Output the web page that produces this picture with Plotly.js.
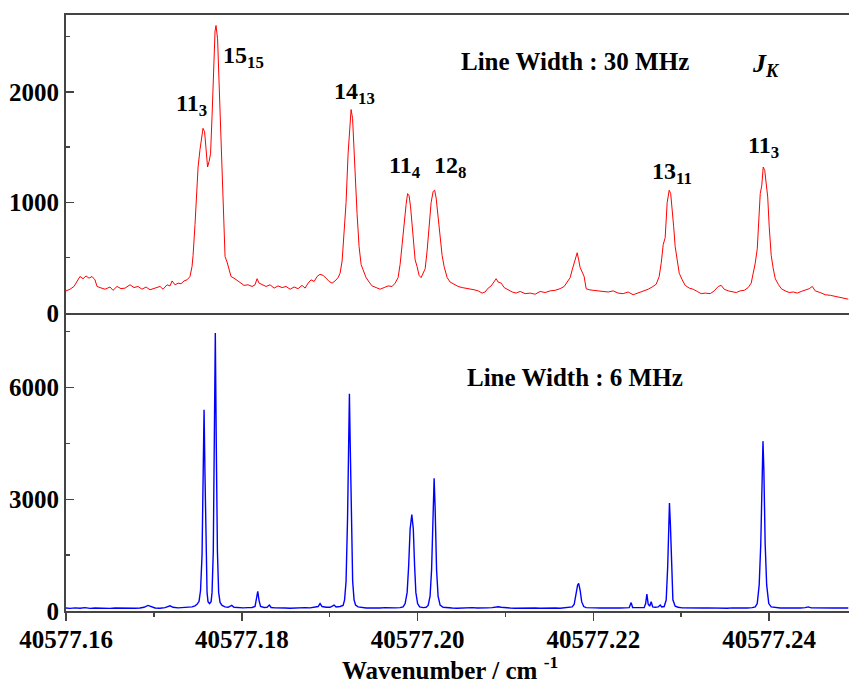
<!DOCTYPE html>
<html>
<head>
<meta charset="utf-8">
<script src="https://cdn.plot.ly/plotly-3.0.1.min.js"></script>
<style>html,body{margin:0;padding:0;background:#fff;}#chart{width:849px;height:684px;}</style>
</head>
<body>
<div id="chart"></div>
<script>
// Top panel: Line width 30 MHz (red)
var redWave = [
40577.16000,40577.16046,40577.16091,40577.16137,40577.16159,40577.16194,40577.16228,40577.16262,40577.16296,40577.16330,
40577.16353,40577.16387,40577.16444,40577.16501,40577.16535,40577.16581,40577.16626,40577.16672,40577.16729,40577.16774,
40577.16820,40577.16865,40577.16911,40577.16956,40577.17013,40577.17070,40577.17104,40577.17150,40577.17184,40577.17207,
40577.17241,40577.17275,40577.17309,40577.17343,40577.17377,40577.17411,40577.17434,40577.17446,40577.17468,40577.17480,
40577.17503,40577.17525,40577.17548,40577.17559,40577.17577,40577.17594,40577.17611,40577.17628,40577.17645,40577.17662,
40577.17679,40577.17696,40577.17707,40577.17725,40577.17742,40577.17759,40577.17776,40577.17793,40577.17810,40577.17833,
40577.17855,40577.17878,40577.17912,40577.17946,40577.17981,40577.18026,40577.18072,40577.18117,40577.18151,40577.18174,
40577.18197,40577.18231,40577.18277,40577.18322,40577.18368,40577.18413,40577.18459,40577.18504,40577.18550,40577.18595,
40577.18641,40577.18686,40577.18721,40577.18755,40577.18789,40577.18823,40577.18857,40577.18891,40577.18925,40577.18960,
40577.18994,40577.19028,40577.19062,40577.19096,40577.19119,40577.19142,40577.19164,40577.19187,40577.19210,40577.19233,
40577.19244,40577.19261,40577.19278,40577.19295,40577.19312,40577.19335,40577.19358,40577.19381,40577.19415,40577.19449,
40577.19483,40577.19529,40577.19574,40577.19620,40577.19665,40577.19711,40577.19745,40577.19779,40577.19802,40577.19825,
40577.19847,40577.19870,40577.19887,40577.19904,40577.19921,40577.19939,40577.19956,40577.19973,40577.19995,40577.20018,
40577.20041,40577.20064,40577.20087,40577.20109,40577.20132,40577.20155,40577.20178,40577.20195,40577.20212,40577.20234,
40577.20257,40577.20280,40577.20303,40577.20337,40577.20371,40577.20417,40577.20462,40577.20508,40577.20553,40577.20599,
40577.20644,40577.20690,40577.20735,40577.20769,40577.20804,40577.20838,40577.20872,40577.20895,40577.20917,40577.20952,
40577.20986,40577.21031,40577.21077,40577.21122,40577.21168,40577.21225,40577.21282,40577.21339,40577.21396,40577.21452,
40577.21509,40577.21566,40577.21623,40577.21669,40577.21703,40577.21737,40577.21760,40577.21783,40577.21805,40577.21817,
40577.21834,40577.21851,40577.21874,40577.21896,40577.21919,40577.21953,40577.21999,40577.22056,40577.22113,40577.22170,
40577.22227,40577.22283,40577.22340,40577.22397,40577.22454,40577.22511,40577.22568,40577.22625,40577.22670,40577.22716,
40577.22750,40577.22773,40577.22796,40577.22818,40577.22841,40577.22864,40577.22881,40577.22898,40577.22915,40577.22932,
40577.22955,40577.22978,40577.23012,40577.23046,40577.23092,40577.23137,40577.23183,40577.23228,40577.23274,40577.23331,
40577.23376,40577.23422,40577.23456,40577.23490,40577.23536,40577.23581,40577.23627,40577.23672,40577.23718,40577.23763,
40577.23797,40577.23820,40577.23843,40577.23866,40577.23883,40577.23900,40577.23917,40577.23934,40577.23951,40577.23968,
40577.23985,40577.24002,40577.24025,40577.24048,40577.24071,40577.24105,40577.24139,40577.24184,40577.24230,40577.24275,
40577.24321,40577.24367,40577.24412,40577.24458,40577.24492,40577.24526,40577.24583,40577.24640,40577.24697,40577.24754,
40577.24810,40577.24856,40577.24902
];
var redCounts = [
200,215,240,300,330,310,335,315,330,300,
240,230,215,235,205,240,220,225,255,230,
240,215,235,210,225,240,215,255,245,290,
255,270,265,290,300,330,420,520,800,1020,
1320,1480,1620,1670,1640,1450,1320,1370,1440,1780,
2250,2550,2600,2480,2080,1650,1250,850,510,460,
390,330,315,295,270,250,255,240,255,310,
270,260,240,255,225,245,230,240,215,235,
220,250,225,270,300,285,330,350,340,315,
285,270,290,320,360,470,700,1000,1440,1760,
1840,1760,1450,1180,900,600,440,390,320,280,
245,230,215,230,245,240,270,320,440,620,
820,980,1080,1060,960,780,600,480,420,340,
320,355,400,560,780,1000,1100,1110,1040,880,
700,520,420,320,280,260,240,230,225,215,
210,200,180,190,225,245,290,310,280,270,
230,210,190,180,195,175,180,170,195,185,
200,205,220,240,280,320,390,460,530,545,
480,410,370,330,220,210,205,200,195,190,
200,180,175,190,165,180,200,215,235,260,
330,450,620,680,1000,1110,1080,950,780,600,
460,360,300,250,225,215,195,175,180,175,
200,240,250,215,200,195,185,200,205,230,
270,360,450,580,900,1080,1150,1320,1290,1180,
1050,780,520,400,310,260,220,200,185,190,
180,195,205,220,240,200,185,165,160,150,
145,135,125
];

// Bottom panel: Line width 6 MHz (blue)
var blueWave = [
40577.16000,40577.16046,40577.16102,40577.16159,40577.16216,40577.16273,40577.16330,40577.16387,40577.16444,40577.16501,
40577.16558,40577.16615,40577.16672,40577.16729,40577.16785,40577.16842,40577.16888,40577.16933,40577.16968,40577.17013,
40577.17070,40577.17127,40577.17184,40577.17218,40577.17275,40577.17332,40577.17389,40577.17434,40577.17468,40577.17491,
40577.17514,40577.17531,40577.17548,40577.17559,40577.17571,40577.17582,40577.17594,40577.17605,40577.17616,40577.17633,
40577.17651,40577.17662,40577.17676,40577.17689,40577.17699,40577.17710,40577.17723,40577.17737,40577.17753,40577.17776,
40577.17810,40577.17844,40577.17886,40577.17912,40577.17958,40577.18015,40577.18072,40577.18117,40577.18151,40577.18168,
40577.18182,40577.18197,40577.18214,40577.18254,40577.18288,40577.18314,40577.18334,40577.18379,40577.18436,40577.18493,
40577.18550,40577.18607,40577.18664,40577.18721,40577.18777,40577.18834,40577.18869,40577.18891,40577.18914,40577.18960,
40577.19005,40577.19051,40577.19073,40577.19119,40577.19153,40577.19170,40577.19187,40577.19204,40577.19216,40577.19225,
40577.19234,40577.19245,40577.19262,40577.19278,40577.19295,40577.19324,40577.19369,40577.19415,40577.19460,40577.19517,
40577.19574,40577.19631,40577.19688,40577.19745,40577.19802,40577.19836,40577.19859,40577.19882,40577.19899,40577.19916,
40577.19935,40577.19952,40577.19967,40577.19981,40577.20001,40577.20024,40577.20064,40577.20098,40577.20121,40577.20143,
40577.20160,40577.20178,40577.20189,40577.20200,40577.20217,40577.20234,40577.20257,40577.20291,40577.20337,40577.20394,
40577.20451,40577.20508,40577.20565,40577.20622,40577.20678,40577.20735,40577.20792,40577.20849,40577.20883,40577.20917,
40577.20952,40577.20997,40577.21054,40577.21111,40577.21168,40577.21225,40577.21282,40577.21339,40577.21396,40577.21452,
40577.21509,40577.21566,40577.21623,40577.21680,40577.21726,40577.21760,40577.21783,40577.21805,40577.21822,40577.21834,
40577.21851,40577.21868,40577.21891,40577.21919,40577.21965,40577.22022,40577.22079,40577.22135,40577.22192,40577.22249,
40577.22306,40577.22363,40577.22409,40577.22431,40577.22448,40577.22488,40577.22534,40577.22579,40577.22596,40577.22610,
40577.22625,40577.22642,40577.22659,40577.22676,40577.22705,40577.22739,40577.22762,40577.22779,40577.22807,40577.22830,
40577.22847,40577.22858,40577.22867,40577.22878,40577.22889,40577.22906,40577.22932,40577.22966,40577.23012,40577.23069,
40577.23126,40577.23183,40577.23240,40577.23297,40577.23353,40577.23410,40577.23467,40577.23524,40577.23581,40577.23638,
40577.23695,40577.23752,40577.23809,40577.23843,40577.23866,40577.23888,40577.23906,40577.23920,40577.23931,40577.23941,
40577.23956,40577.23973,40577.23997,40577.24025,40577.24071,40577.24127,40577.24184,40577.24241,40577.24298,40577.24355,
40577.24412,40577.24446,40577.24480,40577.24537,40577.24606,40577.24674,40577.24742,40577.24810,40577.24867,40577.24902
];
var blueCounts = [
80,70,85,75,90,70,80,75,85,70,
80,75,80,70,75,80,100,150,110,80,
75,90,140,100,85,90,100,110,140,180,
260,550,1500,3600,5400,3600,1400,500,250,200,
250,500,1600,4500,7460,4500,1600,500,230,150,
110,100,150,100,90,85,90,95,120,300,
530,280,120,95,100,160,95,85,90,80,
75,85,80,90,85,95,120,200,120,100,
100,160,110,120,150,300,800,2500,4500,5830,
4500,2500,800,300,160,110,90,80,85,75,
80,90,80,85,90,110,200,500,1200,2200,
2590,2200,1200,500,200,110,90,100,150,400,
1100,2800,3560,2800,1100,400,160,100,85,80,
75,85,80,90,80,75,85,90,100,115,
100,85,80,75,80,75,85,80,75,80,
85,80,75,85,90,110,180,480,700,740,
550,250,120,90,80,85,80,75,85,80,
80,85,90,225,95,90,85,90,200,455,
180,130,250,110,100,110,160,110,120,300,
1200,2300,2900,2300,1200,300,130,100,85,80,
85,75,80,85,80,85,80,75,85,80,
85,80,90,110,200,700,1800,3800,4560,3800,
1800,700,200,110,90,80,85,80,75,80,
90,110,85,80,85,75,80,85,80,80
];

// Labels (J_K assignments) with their positions
var peakLabels = ['11<sub>3</sub>','15<sub>15</sub>','14<sub>13</sub>','11<sub>4</sub>','12<sub>8</sub>','13<sub>11</sub>','11<sub>3</sub>'];
var peakLabelX = [40577.17423,40577.18015,40577.19278,40577.19859,40577.20371,40577.22898,40577.23934];
var peakLabelY = [1880,2314,1988,1317,1317,1265,1499];

var xTitle = '<b>Wavenumber / cm</b> <sup><b>-1</b></sup>';

var xRange = [40577.16, 40577.2491];
var topRange = [0, 2695];
var botRange = [0, 8000];

var serif = 'Liberation Serif, Times New Roman, serif';
var axCol = '#444';

var traces = [
  {x: redWave, y: redCounts, type: 'scatter', mode: 'lines', xaxis: 'x2', yaxis: 'y2',
   line: {color: '#ff0000', width: 1}, hoverinfo: 'skip'},
  {x: blueWave, y: blueCounts, type: 'scatter', mode: 'lines', xaxis: 'x', yaxis: 'y',
   line: {color: '#0000ff', width: 1.4}, hoverinfo: 'skip'}
];

var annotations = [];
for (var i = 0; i < peakLabels.length; i++) {
  annotations.push({xref: 'x2', yref: 'y2', x: peakLabelX[i], y: peakLabelY[i],
    text: '<b>' + peakLabels[i] + '</b>', showarrow: false,
    font: {family: serif, size: 24, color: '#000'}, xanchor: 'center', yanchor: 'middle'});
}
annotations.push({xref: 'x2', yref: 'y2', x: 40577.21794, y: 2278, text: '<b>Line Width : 30 MHz</b>',
  showarrow: false, font: {family: serif, size: 25, color: '#000'}, xanchor: 'center', yanchor: 'middle'});
annotations.push({xref: 'x2', yref: 'y2', x: 40577.23968, y: 2240, text: '<b><i>J</i><sub><i>K</i></sub></b>',
  showarrow: false, font: {family: serif, size: 26, color: '#000'}, xanchor: 'center', yanchor: 'middle'});
annotations.push({xref: 'x', yref: 'y', x: 40577.21794, y: 6273, text: '<b>Line Width : 6 MHz</b>',
  showarrow: false, font: {family: serif, size: 25, color: '#000'}, xanchor: 'center', yanchor: 'middle'});
// x-axis title
annotations.push({xref: 'paper', yref: 'paper', x: 0.4904, y: -0.096, text: xTitle, borderpad: 0,
  showarrow: false, font: {family: serif, size: 25, color: '#000'}, xanchor: 'center', yanchor: 'middle'});

var tickFont = {family: serif, size: 25, color: '#000', weight: 'bold'};

var layout = {
  width: 849, height: 684,
  margin: {l: 66, r: 0, t: 15, b: 73},
  paper_bgcolor: '#fff', plot_bgcolor: '#fff',
  showlegend: false,
  xaxis: {domain: [0, 1], range: xRange, anchor: 'y', showline: true, mirror: false,
    linecolor: axCol, linewidth: 2, ticks: 'outside', ticklen: 8, tickwidth: 1.5, tickcolor: axCol,
    ticklabelstandoff: -3,
    tick0: 40577.16, dtick: 0.02, tickformat: '.2f',
    minor: {dtick: 0.01, ticklen: 4, tickwidth: 1.5, tickcolor: axCol, ticks: 'outside'},
    tickfont: tickFont, showgrid: false, zeroline: false},
  xaxis2: {domain: [0, 1], range: xRange, anchor: 'y2', matches: 'x', showline: true, mirror: true,
    linecolor: axCol, linewidth: 2, ticks: '', showticklabels: false, showgrid: false, zeroline: false},
  yaxis: {domain: [0, 0.5], range: botRange, anchor: 'x', showline: true, linecolor: axCol, linewidth: 2,
    ticks: 'inside', ticklen: 8, tickwidth: 1.5, tickcolor: axCol, dtick: 3000,
    minor: {dtick: 1500, ticklen: 4, tickwidth: 1.5, tickcolor: axCol, ticks: 'inside'},
    tickfont: tickFont, showgrid: false, zeroline: false},
  yaxis2: {domain: [0.5, 1], range: topRange, anchor: 'x2', showline: true, linecolor: axCol, linewidth: 2,
    ticks: 'inside', ticklen: 8, tickwidth: 1.5, tickcolor: axCol, dtick: 1000,
    minor: {dtick: 500, ticklen: 4, tickwidth: 1.5, tickcolor: axCol, ticks: 'inside'},
    tickfont: tickFont, showgrid: false, zeroline: false},
  yaxis3: {overlaying: 'y', side: 'right', anchor: 'x', range: botRange, showline: false,
    ticks: 'inside', ticklen: 6, tickwidth: 1.5, tickcolor: axCol, dtick: 3000, showticklabels: false,
    showgrid: false, zeroline: false},
  yaxis4: {overlaying: 'y2', side: 'right', anchor: 'x2', range: topRange, showline: false,
    ticks: 'inside', ticklen: 6, tickwidth: 1.5, tickcolor: axCol, dtick: 1000, showticklabels: false,
    showgrid: false, zeroline: false},
  annotations: annotations
};

Plotly.newPlot('chart', traces, layout, {staticPlot: true, displayModeBar: false});
</script>
</body>
</html>
